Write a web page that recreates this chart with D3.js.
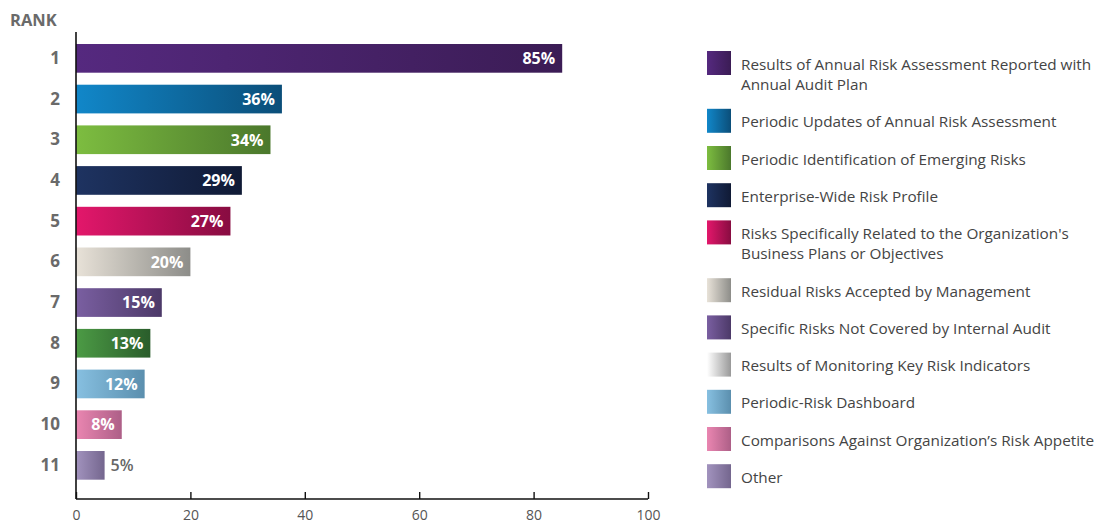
<!DOCTYPE html>
<html>
<head>
<meta charset="utf-8">
<script src="https://cdn.jsdelivr.net/npm/d3@7"></script>
<style>
  html, body { margin: 0; padding: 0; background: #fff; }
  svg { display: block; font-family: "Open Sans", "Noto Sans", sans-serif; }
</style>
</head>
<body>
<svg id="chart" width="1116" height="523"></svg>
<script>
// ---- data ----
const ranks = ["1", "2", "3", "4", "5", "6", "7", "8", "9", "10", "11"];
const values = [85, 36, 34, 29, 27, 20, 15, 13, 12, 8, 5];
const barColorsStart = ["#55297f", "#1187c9", "#7dbd40", "#1e3361", "#e3176b", "#e8e2d8", "#7a5fa1", "#4c9b45", "#87c0e1", "#ea86b1", "#a293be"];
const barColorsEnd   = ["#3b1c55", "#0b4e79", "#4b782c", "#101a35", "#880c41", "#8d8d89", "#4c3968", "#2a5d2b", "#5b8fae", "#ad5f87", "#74668e"];
const categories = [
  "Results of Annual Risk Assessment Reported with\nAnnual Audit Plan",
  "Periodic Updates of Annual Risk Assessment",
  "Periodic Identification of Emerging Risks",
  "Enterprise-Wide Risk Profile",
  "Risks Specifically Related to the Organization's\nBusiness Plans or Objectives",
  "Residual Risks Accepted by Management",
  "Specific Risks Not Covered by Internal Audit",
  "Results of Monitoring Key Risk Indicators",
  "Periodic-Risk Dashboard",
  "Comparisons Against Organization\u2019s Risk Appetite",
  "Other"
];
const legendColorsStart = ["#55297f", "#1187c9", "#7dbd40", "#1e3361", "#e3176b", "#e8e2d8", "#7a5fa1", "#ffffff", "#87c0e1", "#ea86b1", "#a293be"];
const legendColorsEnd   = ["#3b1c55", "#0b4e79", "#4b782c", "#101a35", "#880c41", "#8d8d89", "#4c3968", "#999999", "#5b8fae", "#ad5f87", "#74668e"];
const xTicks = [0, 20, 40, 60, 80, 100];
const yTitle = "RANK";

// ---- layout ----
const svg = d3.select("#chart");
const defs = svg.append("defs");
const x0 = 76, x1 = 648, yTop = 32, yAxis = 499;

const x = d3.scaleLinear().domain([0, 100]).range([x0, x1]);
const y = d3.scaleBand().domain(ranks).range([yTop, 491.7]).paddingInner(0.295).paddingOuter(0.295);

function grad(id, c0, c1) {
  const g = defs.append("linearGradient").attr("id", id)
    .attr("x1", "0%").attr("x2", "100%").attr("y1", "0%").attr("y2", "0%");
  g.append("stop").attr("offset", "0%").attr("stop-color", c0);
  g.append("stop").attr("offset", "100%").attr("stop-color", c1);
}
ranks.forEach((r, i) => grad("bg" + i, barColorsStart[i], barColorsEnd[i]));
categories.forEach((c, i) => grad("lg" + i, legendColorsStart[i], legendColorsEnd[i]));

// bars
svg.append("g").selectAll("rect").data(values).join("rect")
  .attr("x", x(0))
  .attr("y", (d, i) => y(ranks[i]))
  .attr("width", d => x(d) - x(0))
  .attr("height", y.bandwidth())
  .attr("fill", (d, i) => `url(#bg${i})`);

// value labels
svg.append("g").selectAll("text").data(values).join("text")
  .attr("x", d => d >= 8 ? x(d) - 7 : x(d) + 6)
  .attr("y", (d, i) => y(ranks[i]) + y.bandwidth() / 2)
  .attr("dy", "0.36em")
  .attr("text-anchor", d => d >= 8 ? "end" : "start")
  .attr("font-size", 16)
  .attr("font-weight", d => d >= 8 ? 700 : 600)
  .attr("fill", d => d >= 8 ? "#ffffff" : "#666666")
  .text(d => d + "%");

// y axis (rank labels)
const yAxisG = svg.append("g").attr("transform", `translate(${x0},0)`)
  .call(d3.axisLeft(y).tickSize(0).tickPadding(16));
yAxisG.select(".domain").remove();
yAxisG.selectAll("text")
  .attr("font-family", "'Open Sans', 'Noto Sans', sans-serif")
  .attr("font-size", 17).attr("font-weight", 700).attr("fill", "#6a6a6a");

svg.append("line").attr("x1", x0).attr("x2", x0).attr("y1", yTop).attr("y2", yAxis)
  .attr("stroke", "#111").attr("stroke-width", 1.6);

// x axis
const xAxisG = svg.append("g").attr("transform", `translate(0,${yAxis})`)
  .call(d3.axisBottom(x).tickValues(xTicks).tickSize(-7).tickPadding(11).tickFormat(d3.format("d")));
xAxisG.select(".domain").attr("stroke", "#111").attr("stroke-width", 1.6).attr("d", `M${x0},0H${x1}`);
xAxisG.selectAll(".tick line").attr("stroke", "#111").attr("stroke-width", 1.4);
xAxisG.selectAll("text")
  .attr("font-family", "'Open Sans', 'Noto Sans', sans-serif")
  .attr("font-size", 14).attr("font-weight", 500).attr("fill", "#555");

// title
svg.append("text").attr("x", 10).attr("y", 26)
  .attr("font-size", 16.5).attr("font-weight", 700).attr("fill", "#6a6a6a")
  .text(yTitle);

// legend
const legendTops = [];
let ly = 51;
categories.forEach((c, i) => {
  legendTops.push(ly);
  const lines = c.split("\n").length;
  ly += lines > 1 ? 57.8 : 37.2;
});
const lg = svg.append("g").selectAll("g").data(categories).join("g")
  .attr("transform", (d, i) => `translate(707,${legendTops[i]})`);
lg.append("rect").attr("width", 24).attr("height", 24)
  .attr("fill", (d, i) => `url(#lg${i})`);
lg.append("text").attr("x", 34).attr("y", 13)
  .attr("font-size", 15.3).attr("fill", "#444")
  .selectAll("tspan").data(d => d.split("\n")).join("tspan")
  .attr("x", 34).attr("dy", (d, j) => j === 0 ? "0.36em" : "20.5px")
  .text(d => d);
</script>
</body>
</html>
